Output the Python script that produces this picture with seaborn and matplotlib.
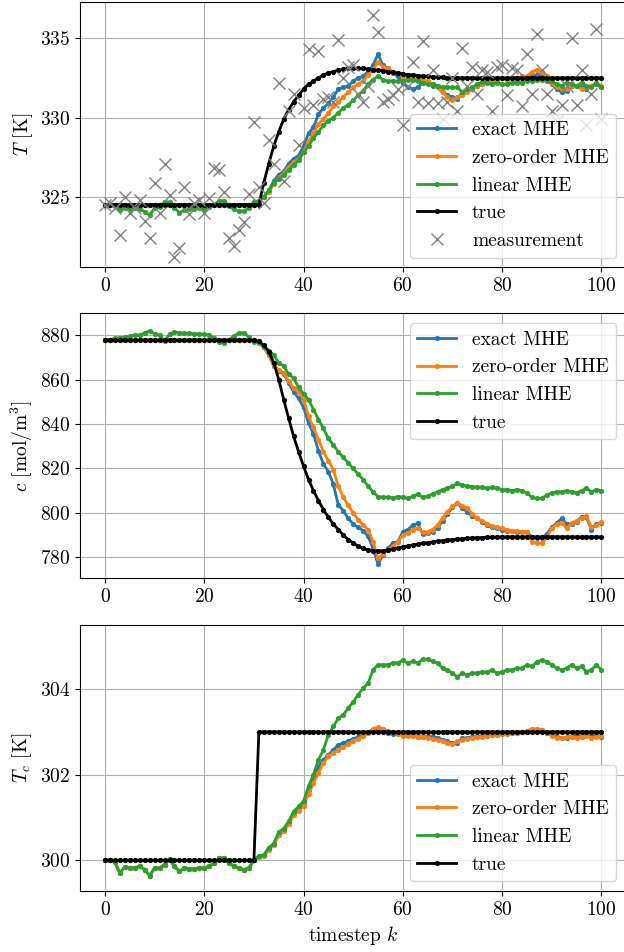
#Estimacion MHE: temperatura, concentracion y temperatura del refrigerante

import seaborn as sns
import matplotlib.pyplot as plt
import numpy as np

k = np.arange(101)

# ---- panel 1: T [K] ----
T_meas = [324.5, 324.6, 324.3, 322.6, 325.0, 324.0, 324.3, 324.8, 323.5, 322.4,
          325.9, 324.0, 327.1, 325.1, 321.2, 321.8, 325.6, 323.9, 324.6, 324.8,
          324.0, 324.9, 326.8, 326.7, 325.3, 322.4, 321.9, 322.9, 323.4, 325.2,
          329.7, 325.6, 324.6, 328.6, 327.1, 332.2, 326.0, 330.4, 331.5, 328.3,
          330.6, 334.3, 330.8, 334.2, 331.2, 331.3, 331.0, 334.9, 332.5, 333.2,
          333.3, 331.5, 331.0, 332.0, 336.5, 335.4, 331.0, 331.2, 331.4, 331.8,
          329.5, 332.0, 333.5, 331.0, 334.8, 330.9, 333.0, 330.9, 329.9, 331.0,
          332.5, 330.4, 334.4, 332.0, 333.2, 331.5, 333.0, 332.9, 330.4, 333.2,
          333.3, 331.4, 333.1, 333.0, 330.7, 334.0, 331.5, 335.3, 333.0, 331.5,
          330.4, 329.8, 330.8, 332.0, 335.0, 330.8, 333.0, 329.5, 331.5, 335.6,
          329.9]
T_true = [324.5] * 32 + [
    325.9, 327.1, 328.2, 329.1, 329.9, 330.5, 331.0, 331.4, 331.8, 332.1,
    332.3, 332.5, 332.7, 332.8, 332.9, 333.0, 333.05, 333.1, 333.1, 333.1,
    333.1, 333.05, 333.0, 333.0, 332.95, 332.9, 332.85, 332.8, 332.75, 332.7,
    332.7, 332.65, 332.6, 332.6, 332.55, 332.55, 332.55] + [332.5] * 32
T_exact = [324.5] * 31 + [
    324.7, 325.0, 325.4, 326.0, 326.4, 326.6, 327.1, 327.4, 327.6, 328.2,
    329.0, 329.4, 330.2, 330.6, 330.9, 331.3, 331.8, 331.9, 332.0, 332.3,
    332.5, 332.6, 332.9, 333.3, 334.0, 333.3, 333.1, 332.8, 332.6, 332.2,
    331.9, 331.8, 331.9, 332.2, 332.2, 332.0, 331.9, 331.6, 331.4, 331.3,
    331.2, 331.6, 331.7, 331.8, 332.0, 332.1, 332.35, 332.4, 332.4, 332.5,
    332.4, 332.5, 332.4, 332.5, 332.5, 332.6, 332.7, 332.6, 332.4, 332.1,
    331.8, 331.6, 331.7, 332.0, 332.0, 331.9, 331.8, 332.0, 332.1, 331.9]
T_zero = [324.5] * 31 + [
    324.7, 325.0, 325.3, 325.8, 326.2, 326.5, 326.9, 327.2, 327.4, 327.8,
    328.5, 329.0, 329.6, 329.9, 330.3, 330.7, 331.0, 331.3, 331.6, 331.9,
    332.1, 332.3, 332.7, 333.0, 333.5, 333.2, 333.1, 332.9, 332.8, 332.6,
    332.5, 332.4, 332.4, 332.4, 332.3, 332.1, 331.9, 331.6, 331.3, 331.1,
    331.3, 331.4, 331.6, 331.8, 332.0, 332.1, 332.3, 332.4, 332.4, 332.5,
    332.4, 332.5, 332.5, 332.6, 332.6, 332.9, 333.0, 332.9, 332.6, 332.2,
    331.9, 331.8, 331.8, 332.0, 332.0, 331.8, 331.9, 332.0, 332.2, 332.0]
T_lin = [324.5, 324.5, 324.4, 324.15, 324.3, 324.25, 324.3, 324.25, 324.05, 323.85,
         324.3, 324.35, 324.7, 324.65, 324.3, 324.0, 324.15, 324.2, 324.25, 324.3,
         324.2, 324.35, 324.5, 324.75, 324.75, 324.4, 324.2, 324.1, 324.1, 324.3,
         324.7, 324.75, 325.0, 325.4, 325.9, 326.1, 326.4, 326.7, 327.0, 327.3,
         327.8, 328.2, 328.7, 329.1, 329.5, 329.8, 330.0, 330.3, 330.6, 330.8,
         331.1, 331.4, 331.7, 332.1, 332.4, 332.6, 332.4, 332.3, 332.3, 332.3,
         332.3, 332.4, 332.35, 332.3, 332.2, 332.1, 332.1, 332.0, 331.9, 331.9,
         331.9, 331.9, 331.6, 331.8, 331.9, 332.1, 332.25, 332.2, 332.1, 332.2,
         332.1, 332.1, 332.2, 332.2, 332.2, 332.3, 332.3, 332.4, 332.4, 332.3,
         332.3, 332.1, 332.0, 332.2, 332.1, 332.0, 332.2, 332.0, 331.9, 332.2,
         331.9]

# ---- panel 2: c [mol/m^3] ----
c_true = [877.7] * 31 + [
    877.2, 875.5, 872.5, 867.5, 860.0, 851.0, 842.5, 834.5, 827.5, 821.0,
    815.0, 810.0, 805.5, 801.5, 798.0, 795.0, 792.5, 790.0, 788.0, 786.5,
    785.0, 784.0, 783.3, 783.0, 782.8, 783.0, 783.3, 783.7, 784.2, 784.7,
    785.1, 785.5, 785.9, 786.3, 786.6, 786.9, 787.2, 787.5, 787.8, 788.0,
    788.2, 788.4, 788.6, 788.7, 788.8, 788.9, 789.0, 789.1, 789.15, 789.2] + [789.2] * 20
c_exact = [877.7] * 31 + [
    876.5, 874.5, 871.0, 866.0, 864.0, 862.5, 858.5, 854.5, 851.5, 847.5,
    840.5, 835.5, 828.0, 822.0, 818.5, 813.0, 803.5, 801.0, 797.5, 795.0,
    793.5, 792.0, 789.5, 784.0, 777.0, 781.0, 784.0, 786.5, 787.0, 791.5,
    792.5, 794.5, 795.3, 790.5, 791.0, 791.5, 793.0, 796.5, 799.5, 802.5,
    804.3, 802.0, 800.5, 798.5, 797.5, 796.0, 794.5, 793.5, 793.0, 792.5,
    792.0, 792.0, 791.5, 791.5, 791.5, 789.0, 788.5, 788.5, 790.5, 793.5,
    795.5, 797.5, 795.0, 795.0, 796.0, 798.3, 798.0, 792.5, 795.0, 795.5]
c_zero = [877.7] * 31 + [
    876.5, 874.5, 871.0, 866.5, 864.5, 862.8, 859.5, 856.0, 854.5, 851.0,
    843.5, 838.5, 833.0, 827.5, 823.5, 819.5, 812.0, 807.0, 803.5, 800.0,
    797.0, 794.5, 792.5, 787.0, 779.5, 781.5, 783.5, 785.0, 787.0, 790.0,
    790.8, 792.5, 793.0, 791.5, 791.5, 792.5, 794.5, 797.7, 800.5, 803.0,
    804.6, 803.0, 802.0, 799.5, 797.5, 796.5, 795.0, 794.0, 793.5, 793.0,
    792.5, 792.0, 792.0, 791.5, 791.5, 787.0, 786.5, 786.3, 789.0, 793.0,
    795.0, 795.5, 793.0, 795.5, 796.5, 797.5, 798.4, 793.5, 794.5, 796.0]
c_lin = [877.7, 878.0, 878.5, 878.8, 879.0, 879.5, 880.0, 880.0, 881.0, 881.9,
         880.5, 880.0, 877.2, 880.5, 881.5, 881.0, 880.8, 880.8, 880.5, 880.5,
         880.3, 880.0, 878.5, 877.0, 876.5, 878.0, 879.5, 881.0, 881.0, 879.0,
         877.0, 876.8, 874.8, 873.0, 871.0, 867.5, 866.0, 862.5, 860.5, 856.5,
         853.5, 851.0, 846.5, 842.0, 838.0, 833.5, 830.5, 827.5, 825.0, 822.5,
         820.0, 817.5, 815.0, 812.0, 809.5, 807.3, 807.0, 807.0, 806.8, 807.3,
         807.0, 806.5, 807.5, 808.4, 807.0, 807.5, 808.5, 809.5, 810.5, 811.0,
         812.0, 813.3, 812.5, 812.0, 811.8, 811.5, 811.5, 811.0, 811.5, 811.0,
         810.5, 810.5, 810.0, 810.5, 810.0, 809.0, 807.0, 806.5, 806.5, 808.0,
         809.0, 809.5, 809.5, 810.0, 809.5, 809.0, 810.0, 811.0, 809.5, 810.5,
         810.0]

# ---- panel 3: Tc [K] ----
Tc_true = [300.0] * 31 + [303.0] * 70
Tc_lin = [300.0, 300.0, 299.95, 299.7, 299.85, 299.82, 299.82, 299.86, 299.78, 299.64,
          299.82, 299.82, 299.9, 300.03, 299.86, 299.74, 299.82, 299.8, 299.8, 299.81,
          299.82, 299.86, 299.93, 300.05, 300.05, 299.93, 299.86, 299.82, 299.78, 299.82,
          300.0, 300.1, 300.12, 300.29, 300.39, 300.66, 300.74, 300.91, 301.14, 301.26,
          301.38, 301.73, 302.0, 302.35, 302.58, 302.93, 303.13, 303.32, 303.4, 303.56,
          303.7, 303.87, 304.02, 304.14, 304.45, 304.57, 304.57, 304.57, 304.61, 304.62,
          304.67, 304.61, 304.65, 304.61, 304.7, 304.7, 304.65, 304.61, 304.49, 304.45,
          304.37, 304.29, 304.37, 304.33, 304.37, 304.38, 304.4, 304.4, 304.45, 304.37,
          304.4, 304.45, 304.45, 304.49, 304.49, 304.57, 304.53, 304.64, 304.68, 304.64,
          304.57, 304.49, 304.45, 304.49, 304.57, 304.49, 304.53, 304.41, 304.45, 304.57,
          304.45]
Tc_exact = Tc_lin[:31] + [
    300.1, 300.12, 300.29, 300.39, 300.62, 300.72, 300.88, 301.1, 301.22, 301.35,
    301.65, 301.92, 302.19, 302.35, 302.47, 302.58, 302.7, 302.74, 302.78, 302.84,
    302.88, 302.93, 302.97, 303.02, 303.09, 303.05, 302.97, 302.95, 302.95, 302.93,
    302.93, 302.93, 302.89, 302.89, 302.89, 302.89, 302.86, 302.82, 302.78, 302.74,
    302.74, 302.86, 302.86, 302.89, 302.89, 302.9, 302.91, 302.93, 302.93, 302.95,
    302.97, 302.97, 302.97, 302.99, 303.01, 303.05, 303.05, 303.05, 302.97, 302.93,
    302.89, 302.86, 302.86, 302.89, 302.93, 302.89, 302.93, 302.89, 302.93, 302.89]
Tc_zero = Tc_lin[:31] + [
    300.08, 300.1, 300.25, 300.35, 300.58, 300.68, 300.84, 301.05, 301.15, 301.28,
    301.55, 301.8, 302.04, 302.27, 302.43, 302.51, 302.58, 302.64, 302.72, 302.78,
    302.84, 302.9, 302.98, 303.08, 303.11, 303.07, 303.03, 302.99, 302.95, 302.91,
    302.91, 302.91, 302.89, 302.89, 302.86, 302.84, 302.82, 302.78, 302.74, 302.72,
    302.78, 302.82, 302.84, 302.86, 302.88, 302.89, 302.91, 302.93, 302.93, 302.95,
    302.95, 302.97, 302.97, 302.99, 303.03, 303.07, 303.07, 303.05, 302.97, 302.91,
    302.86, 302.86, 302.88, 302.89, 302.86, 302.89, 302.91, 302.86, 302.89, 302.91]

labels = ["exact MHE", "zero-order MHE", "linear MHE", "true"]
colors = ["#1f77b4", "#ff7f0e", "#2ca02c", "black"]

plt.rcParams["font.family"] = "serif"
plt.rcParams["font.serif"] = ["cmr10"]
plt.rcParams["mathtext.fontset"] = "cm"
plt.rcParams["axes.formatter.use_mathtext"] = True
plt.rcParams["font.size"] = 14

fig = plt.figure(figsize=(6.24, 9.52), dpi=100)
ax1 = fig.add_axes([0.1285, 0.7192, 0.875, 0.279])
ax2 = fig.add_axes([0.1285, 0.3925, 0.875, 0.2784])
ax3 = fig.add_axes([0.1285, 0.0640, 0.875, 0.2795])

panels = [
    (ax1, [T_exact, T_zero, T_lin, T_true], r"$T$ [K]", (320.55, 337.31), "lower right"),
    (ax2, [c_exact, c_zero, c_lin, c_true], r"$c$ [mol/m$^3$]", (770.55, 889.8), "upper right"),
    (ax3, [Tc_exact, Tc_zero, Tc_lin, Tc_true], r"$T_c$ [K]", (299.28, 305.5), "lower right"),
]

for ax, series, ylab, ylim, loc in panels:
    for y, lab, col in zip(series, labels, colors):
        sns.lineplot(x=k, y=y, ax=ax, label=lab, color=col, marker=".",
                     markersize=6.5, mec=col, mew=0.5, linewidth=2)
    if ax is ax1:
        sns.lineplot(x=k, y=T_meas, ax=ax, label="measurement", color="gray",
                     marker="x", markersize=9, mec="gray", mew=1.0, linestyle="none")
    ax.set_ylim(*ylim)
    ax.set_xlim(-5, 105)
    ax.set_xticks([0, 20, 40, 60, 80, 100])
    ax.set_ylabel(ylab)
    ax.set_xlabel("")
    ax.grid(True)
    ax.legend(loc=loc)

ax1.set_yticks([325, 330, 335])
ax2.set_yticks([780, 800, 820, 840, 860, 880])
ax3.set_yticks([300, 302, 304])
ax3.set_xlabel(r"timestep $k$")

fig.savefig("out.png", dpi=100)
